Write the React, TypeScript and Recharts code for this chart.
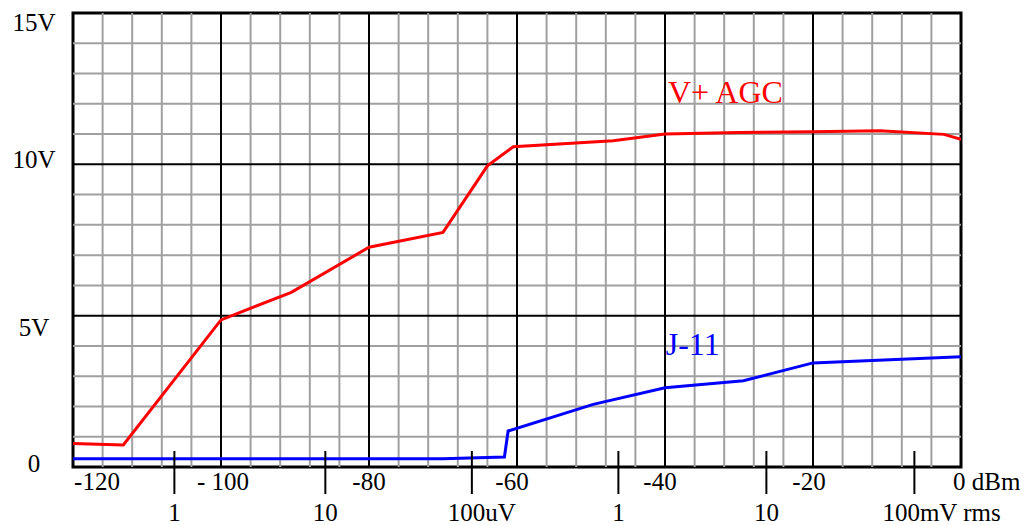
import { LineChart, Line, XAxis, YAxis, ReferenceLine, ReferenceArea, ReferenceDot } from "recharts";

// V+ AGC curve (red)
const agcDbm = [-120, -113.2, -100, -90.5, -80, -70, -64, -60.5, -47, -40, -30, -20, -11, -2.3, 0];
const agcVolts = [0.78, 0.73, 4.86, 5.77, 7.26, 7.75, 9.95, 10.58, 10.78, 11.0, 11.05, 11.08, 11.11, 10.99, 10.83];

// J-11 curve (blue)
const j11Dbm = [-120, -70, -61.7, -61.2, -49.7, -40, -29.4, -20, 0];
const j11Volts = [0.27, 0.27, 0.33, 1.19, 2.07, 2.62, 2.85, 3.44, 3.64];

// axes
const dbmTicks = [-120, -100, -80, -60, -40, -20, 0];
const dbmLabels = ["-120", "- 100", "-80", "-60", "-40", "-20", "0 dBm"];
const rmsTicks = [-106.3, -85.9, -66.1, -46.3, -26.3, -6.3];
const rmsLabels = ["1", "10", "100uV", "1", "10", "100mV rms"];
const voltTicks = [0, 5, 10, 15];
const voltLabels = ["0", "5V", "10V", "15V"];

const minorX = [-116, -112, -108, -104, -96, -92, -88, -84, -76, -72, -68, -64, -56, -52, -48, -44, -36, -32, -28, -24, -16, -12, -8, -4];
const minorY = [1, 2, 3, 4, 6, 7, 8, 9, 11, 12, 13, 14];

const agcData = agcDbm.map((x, i) => ({ x, v: agcVolts[i] }));
const j11Data = j11Dbm.map((x, i) => ({ x, v: j11Volts[i] }));

const FONT = "'Liberation Serif', 'Times New Roman', serif";

// small nudges so the labels sit like in the original drawing
const dbmDx: Record<string, number> = { "-120": 24, "- 100": 2, "-80": 0, "-60": -5, "-40": -5, "-20": -4 };
const rmsStart: Record<string, number> = { "100uV": -24, "100mV rms": -32 };
const voltDy: Record<number, number> = { 15: 18, 10: 4, 5: 20, 0: 5 };

function XTick(props: any) {
  const { x, y, payload } = props;
  const v = payload.value;
  const di = dbmTicks.indexOf(v);
  if (di >= 0) {
    const label = dbmLabels[di];
    if (label === "0 dBm") {
      return (
        <text x={x - 8} y={y + 23} textAnchor="start" fontSize={25} fontFamily={FONT} fill="#000">
          {label}
        </text>
      );
    }
    return (
      <text x={x + (dbmDx[label] ?? 0)} y={y + 23} textAnchor="middle" fontSize={25} fontFamily={FONT} fill="#000">
        {label}
      </text>
    );
  }
  const ri = rmsTicks.indexOf(v);
  if (ri < 0) return null;
  const label = rmsLabels[ri];
  const start = rmsStart[label];
  return (
    <g>
      <line x1={x} x2={x} y1={y - 16} y2={y + 27} stroke="#000" strokeWidth={2} />
      <text
        x={start !== undefined ? x + start : x}
        y={y + 54}
        textAnchor={start !== undefined ? "start" : "middle"}
        fontSize={25}
        fontFamily={FONT}
        fill="#000"
      >
        {label}
      </text>
    </g>
  );
}

function YTick(props: any) {
  const { y, payload } = props;
  const i = voltTicks.indexOf(payload.value);
  return (
    <text x={34} y={y + (voltDy[payload.value] ?? 0)} textAnchor="middle" fontSize={25} fontFamily={FONT} fill="#000">
      {voltLabels[i]}
    </text>
  );
}

function tag(text: string, color: string) {
  return (p: any) => (
    <text x={p.cx} y={p.cy} textAnchor="start" fontSize={32} fontFamily={FONT} fill={color}>
      {text}
    </text>
  );
}

export default function App() {
  return (
    <div style={{ position: "absolute", left: 0, top: 0, background: "#fff" }}>
      <LineChart width={1028} height={525} margin={{ top: 13, right: 67, left: 0, bottom: 0 }}>
        <XAxis
          type="number"
          dataKey="x"
          domain={[-120, 0]}
          ticks={[...dbmTicks, ...rmsTicks]}
          interval={0}
          allowDataOverflow
          height={58}
          tickSize={0}
          tickMargin={0}
          tickLine={false}
          axisLine={false}
          tick={XTick}
        />
        <YAxis
          type="number"
          domain={[0, 15]}
          ticks={voltTicks}
          interval={0}
          width={73}
          tickSize={0}
          tickMargin={0}
          tickLine={false}
          axisLine={false}
          tick={YTick}
        />
        {minorX.map((v) => (
          <ReferenceLine key={"mx" + v} x={v} stroke="#a0a0a0" strokeWidth={2} />
        ))}
        {minorY.map((v) => (
          <ReferenceLine key={"my" + v} y={v} stroke="#a0a0a0" strokeWidth={2} />
        ))}
        {[-100, -80, -60, -40, -20].map((v) => (
          <ReferenceLine key={"MX" + v} x={v} stroke="#000" strokeWidth={2} />
        ))}
        {[5, 10].map((v) => (
          <ReferenceLine key={"MY" + v} y={v} stroke="#000" strokeWidth={2} />
        ))}
        <ReferenceArea x1={-120} x2={0} y1={0} y2={15} fill="none" fillOpacity={0} stroke="#000" strokeWidth={3} />
        <Line data={agcData} dataKey="v" type="linear" stroke="#ff0000" strokeWidth={3} dot={false} isAnimationActive={false} />
        <Line data={j11Data} dataKey="v" type="linear" stroke="#0000ff" strokeWidth={3} dot={false} isAnimationActive={false} />
        <ReferenceDot x={-39.6} y={12.03} r={0} shape={tag("V+ AGC", "#ff0000")} />
        <ReferenceDot x={-39.9} y={3.7} r={0} shape={tag("J-11", "#0000ff")} />
      </LineChart>
    </div>
  );
}
